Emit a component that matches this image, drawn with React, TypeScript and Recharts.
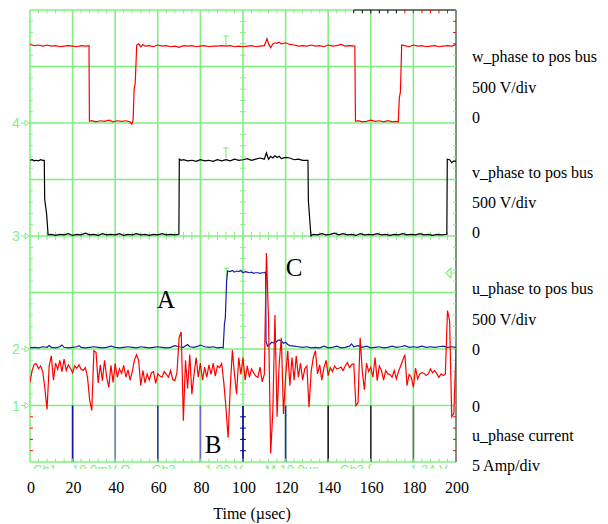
import React from 'react';
import { LineChart, Line, XAxis, YAxis, CartesianGrid, ReferenceLine } from 'recharts';

// ---------- axis / label data ----------
const timeTicks = [0, 20, 40, 60, 80, 100, 120, 140, 160, 180, 200];
const gridTimes = [0, 20, 40, 60, 80, 100, 120, 140, 160, 180, 200];
const gridLevels = [0, 1, 2, 3, 4, 5, 6, 7, 8];

// channel zero levels (in screen divisions)
const W_ZERO = 6;
const V_ZERO = 4;
const U_ZERO = 2;
const I_ZERO = 1;
const channelLevels = [I_ZERO, U_ZERO, V_ZERO, W_ZERO];
const channelNames = ['1', '2', '3', '4'];

// ---------- series (divisions above own zero) ----------
const wPhase: [number, number][] = [
  [0, 1.39], [2, 1.37], [4, 1.38], [6, 1.36], [8, 1.38], [10, 1.36], [12, 1.37], [14, 1.35], [16, 1.36], [18, 1.37],
  [20, 1.36], [22, 1.35], [24, 1.37], [26, 1.36], [27.7, 1.37], [27.9, 0.03], [29, 0.04], [31, 0.02], [33, 0.04],
  [35, 0.03], [37, 0.05], [39, 0.02], [41, 0.04], [43, 0.03], [45, 0.04], [47, 0.02], [47.8, -0.02], [48.4, 0.05],
  [48.9, 0.6], [49.4, 0.7], [50.1, 1.38], [51, 1.4], [52, 1.35], [53, 1.39], [54, 1.36], [56, 1.37], [58, 1.35],
  [60, 1.38], [62, 1.36], [64, 1.37], [66, 1.35], [68, 1.36], [70, 1.34], [72, 1.37], [74, 1.36], [76, 1.37],
  [78, 1.35], [80, 1.36], [82, 1.37], [84, 1.35], [86, 1.36], [88, 1.36], [90, 1.37], [92, 1.36], [94, 1.37],
  [96, 1.35], [98, 1.36], [100, 1.35], [102, 1.36], [104, 1.37], [106, 1.35], [108, 1.36], [110, 1.37], [111.3, 1.49],
  [112, 1.4], [113, 1.33], [114, 1.4], [115, 1.42], [116, 1.41], [117, 1.43], [118, 1.4], [120, 1.42], [122, 1.39],
  [124, 1.38], [126, 1.36], [128, 1.37], [130, 1.36], [132, 1.38], [134, 1.36], [136, 1.37], [138, 1.35], [140, 1.38],
  [142, 1.36], [144, 1.37], [146, 1.39], [148, 1.36], [150, 1.37], [152.5, 1.36], [152.8, 0.03], [154, 0.04],
  [156, 0.02], [158, 0.03], [160, 0.05], [162, 0.03], [164, 0.04], [166, 0.02], [168, 0.04], [170, 0.02], [172, 0.03],
  [172.9, 0.02], [173.4, 0.45], [173.9, 0.55], [174.5, 1.38], [176, 1.37], [178, 1.35], [180, 1.38], [182, 1.36],
  [184, 1.37], [186, 1.35], [188, 1.36], [190, 1.37], [192, 1.35], [194, 1.36], [196, 1.37], [198, 1.36], [199.5, 1.38],
  [200, 1.4],
];

const vPhase: [number, number][] = [
  [0, 1.34], [1, 1.35], [2, 1.33], [3, 1.34], [4, 1.33], [5, 1.35], [6, 1.34], [6.7, 1.34], [6.9, 0.65], [7.8, 0.39],
  [8.5, 0.02], [10, 0.03], [12, 0.01], [14, 0.03], [16, 0.02], [18, 0.04], [20, 0.01], [22, 0.03], [24, 0.02],
  [26, 0.05], [28, 0.02], [30, 0.03], [32, 0.01], [34, 0.04], [36, 0.02], [38, 0.03], [40, 0.02], [42, 0.04],
  [44, 0.01], [46, 0.03], [48, 0.02], [50, 0.04], [52, 0.02], [54, 0.03], [56, 0.01], [58, 0.03], [60, 0.02],
  [62, 0.04], [64, 0.02], [66, 0.03], [68, 0.02], [69.9, 0.03], [70.1, 1.36], [71, 1.34], [72, 1.35], [74, 1.33],
  [76, 1.34], [78, 1.32], [80, 1.35], [82, 1.33], [84, 1.34], [86, 1.32], [88, 1.35], [90, 1.33], [92, 1.35],
  [94, 1.33], [96, 1.36], [98, 1.34], [100, 1.35], [102, 1.37], [104, 1.34], [106, 1.36], [108, 1.38], [110, 1.36],
  [111, 1.47], [112, 1.36], [113, 1.41], [114, 1.38], [115, 1.42], [116, 1.39], [117, 1.41], [118, 1.37], [120, 1.39],
  [122, 1.38], [124, 1.35], [126, 1.36], [128, 1.34], [130.5, 1.34], [130.7, 0.62], [131.9, 0.0], [133, 0.03],
  [135, 0.02], [137, 0.04], [139, 0.02], [141, 0.03], [143, 0.05], [145, 0.02], [147, 0.04], [149, 0.02], [151, 0.03],
  [153, 0.01], [155, 0.04], [157, 0.02], [159, 0.03], [161, 0.02], [163, 0.04], [165, 0.02], [167, 0.03], [169, 0.01],
  [171, 0.03], [173, 0.02], [175, 0.04], [177, 0.02], [179, 0.03], [181, 0.02], [183, 0.04], [185, 0.02], [187, 0.03],
  [189, 0.01], [191, 0.03], [193, 0.02], [195.7, 0.03], [195.9, 1.36], [197, 1.35], [198, 1.3], [199, 1.33], [200, 1.32],
];

const uPhase: [number, number][] = [
  [0, 0.02], [2, 0.03], [4, 0.02], [6, 0.04], [8, 0.03], [9, 0.06], [10, 0.03], [12, 0.02], [14, 0.04], [15, 0.07],
  [16, 0.03], [18, 0.02], [20, 0.03], [22, 0.04], [23, 0.06], [24, 0.03], [26, 0.02], [28, 0.03], [30, 0.04],
  [32, 0.03], [34, 0.02], [36, 0.03], [38, 0.05], [40, 0.03], [42, 0.02], [44, 0.03], [46, 0.04], [48, 0.03],
  [50, 0.02], [52, 0.04], [54, 0.03], [56, 0.02], [58, 0.03], [60, 0.04], [62, 0.03], [64, 0.02], [66, 0.03],
  [68, 0.06], [70, 0.04], [72, 0.03], [74, 0.08], [75, 0.04], [77, 0.03], [79, 0.05], [80, 0.07], [82, 0.04],
  [84, 0.03], [86, 0.04], [88, 0.02], [90, 0.03], [90.7, 0.02], [91.3, 0.45], [91.7, 0.55], [92.3, 1.2], [92.8, 1.38],
  [94, 1.37], [95, 1.39], [96, 1.36], [97, 1.38], [98, 1.37], [99, 1.39], [100, 1.35], [101, 1.37], [102, 1.36],
  [103, 1.35], [104, 1.36], [105, 1.34], [106, 1.35], [107, 1.35], [108, 1.34], [109, 1.35], [110, 1.35], [110.6, 1.36],
  [110.8, 0.14], [111.5, 0.05], [112.5, 0.08], [113.5, 0.12], [115, 0.1], [116, 0.14], [117, 0.16], [118, 0.14],
  [119, 0.1], [120, 0.12], [121, 0.08], [122, 0.06], [124, 0.05], [126, 0.04], [128, 0.03], [130, 0.04], [132, 0.02],
  [134, 0.03], [136, 0.02], [138, 0.05], [140, 0.02], [142, 0.03], [144, 0.05], [146, 0.02], [148, 0.03], [150, 0.05],
  [151, 0.09], [152, 0.04], [154, 0.06], [156, 0.03], [158, 0.05], [160, 0.02], [162, 0.03], [164, 0.04], [166, 0.02],
  [168, 0.03], [170, 0.05], [172, 0.03], [174, 0.04], [176, 0.06], [178, 0.03], [180, 0.04], [182, 0.03], [184, 0.05],
  [186, 0.03], [188, 0.04], [190, 0.03], [192, 0.04], [194, 0.05], [196, 0.03], [198, 0.04], [200, 0.03],
];

// u_phase current, one sample per µs from 0 to 200
const uCurrent: number[] = [
  0.41, 0.62, 0.73, 0.74, 0.65, 0.7, 0.6, 0.3, -0.07, 0.7,
  0.88, 0.45, 0.75, 0.64, 0.8, 0.6, 0.82, 0.62, 0.72, 0.66,
  0.58, 0.7, 0.66, 0.72, 0.64, 0.62, 0.67, 0.5, 0.1, -0.09,
  0.97, 0.94, 0.4, 0.72, 0.44, 0.8, 0.5, 0.32, 0.71, 0.41,
  0.74, 0.5, 0.65, 0.57, 0.71, 0.5, 0.63, 0.45, 0.6, 0.8,
  0.9, 0.8, 0.35, 0.62, 0.4, 0.56, 0.45, 0.58, 0.6, 0.39,
  0.56, 0.52, 0.5, 0.6, 0.55, 0.5, 0.62, 0.46, 0.44, 0.58,
  1.2, 1.3, -0.27, 0.8, 0.3, 0.9, 0.2, 0.55, 0.85, 0.5,
  0.75, 0.45, 0.68, 0.5, 0.72, 0.55, 0.75, 0.52, 0.7, 0.67,
  0.74, 0.4, -0.04, -0.57, 0.3, 0.98, 0.55, 0.2, 0.85, 0.55,
  0.85, 0.45, 0.7, 0.5, 0.65, 0.58, 0.52, 0.5, 0.68, 0.42,
  0.55, 2.7, 1.5, -0.85, -0.1, 1.6, -0.2, 0.75, 1.2, -0.15,
  0.5, 0.97, 0.35, 0.85, 0.45, 0.88, 0.5, 0.75, 0.45, 0.65,
  0.7, -0.03, 0.6, 0.85, 0.97, 0.56, 0.72, 0.45, 0.67, 0.8,
  0.53, 0.67, 0.6, 0.7, 0.65, 0.66, 0.68, 0.62, 0.7, 0.76,
  0.67, 0.72, 0.74, 0.0, 0.05, 1.2, 0.6, 0.28, 0.75, 0.6,
  0.68, 0.5, 0.85, 0.44, 0.7, 0.62, 0.45, 0.62, 0.56, 0.55,
  0.5, 0.62, 0.47, 0.6, 0.7, 0.8, 0.9, 0.35, 0.55, 0.5,
  0.32, 0.66, 0.47, 0.56, 0.58, 0.57, 0.53, 0.56, 0.65, 0.58,
  0.62, 0.56, 0.5, 0.56, 0.53, 0.56, 1.68, 1.5, -0.2, -0.14,
  1.0,
];

// trigger "I" markers: time, level low, level high (divisions)
const triggerMarks: [number, number, number][] = [
  [92, 7.36, 7.54],
  [92, 5.38, 5.56],
  [92.2, 3.22, 3.43],
];

// coloured lower-section grid segments
const lowerSegTimes = [20, 40, 60, 80, 100, 120, 140, 160, 180];
const lowerSegColors = ['#1010b0', '#7c7cd0', '#3434ac', '#6c6cc8', '#000090', '#2a2aa4', '#202020', '#303030', '#6a6a6a'];

const rightLabelLines = [
  'w_phase to pos bus', '500 V/div', '0',
  'v_phase to pos bus', '500 V/div', '0',
  'u_phase to pos bus', '500 V/div', '0',
  '0', 'u_phase current', '5 Amp/div',
];
const rightLabelBaselines = [62, 93, 123, 178, 208, 238, 294, 325, 355, 412, 441, 471];

const statusTexts = ['Ch1', '10.0mV Ω', 'Ch3', '1.00 V', 'M 10.0µs', 'Ch3 ∫', '1.24 V'];
const statusX = [33, 72, 152, 205, 265, 340, 410];

// ---------- derived tables ----------
const wData = wPhase.map(([t, v]) => ({ t, y: v + W_ZERO }));
const vData = vPhase.map(([t, v]) => ({ t, y: v + V_ZERO }));
const uData = uPhase.map(([t, v]) => ({ t, y: v + U_ZERO }));
const iData = uCurrent.map((v, i) => ({ t: i, y: v + I_ZERO }));

const minorT: number[] = [];
for (let t = 4; t < 200; t += 4) minorT.push(t);
const minorV: number[] = [];
for (let k = 1; k < 40; k++) minorV.push(k / 5);

const GREEN = '#80f080';
const SERIF = '"Liberation Serif", "Times New Roman", serif';
const SANS = '"Liberation Sans", Arial, sans-serif';

const ChannelTick = (props: any) => {
  const { x, y, payload } = props;
  const idx = channelLevels.indexOf(payload.value);
  return (
    <g>
      <text x={x - 14} y={y + 5} textAnchor="middle" fontSize={14} fontFamily={SANS} fill={GREEN}>
        {channelNames[idx]}
      </text>
      <path d={`M${x - 9},${y} H${x - 5} M${x - 5},${y - 3} L${x - 1},${y} L${x - 5},${y + 3} Z`} stroke={GREEN} strokeWidth={1} fill="none" />
    </g>
  );
};

const TimeTick = (props: any) => {
  const { x, y, payload } = props;
  return (
    <text x={x + 1} y={y + 31} textAnchor="middle" fontSize={16} fontFamily={SERIF} fill="#000">
      {payload.value}
    </text>
  );
};

const seg = (key: string, x1: number, y1: number, x2: number, y2: number, color: string, w = 1) => (
  <ReferenceLine
    key={key}
    segment={[{ x: x1, y: y1 }, { x: x2, y: y2 }]}
    stroke={color}
    strokeWidth={w}
    ifOverflow="visible"
  />
);

export default function App() {
  const refs: React.ReactNode[] = [];
  lowerSegTimes.forEach((t, i) => refs.push(seg(`ls${t}`, t, 0, t, 1, lowerSegColors[i], 1.6)));
  refs.push(seg('topdark', 152, 8, 200, 8, '#555555', 1.6));
  refs.push(seg('rightb', 200, 0, 200, 8, '#7a7a7a', 1.6));
  minorT.forEach((t) => {
    const topColor = t < 152 ? GREEN : t < 176 ? '#000000' : '#ff0000';
    refs.push(seg(`tt${t}`, t, 8, t, 7.94, topColor));
    refs.push(seg(`bt${t}`, t, 0, t, 0.06, GREEN));
    refs.push(seg(`ct${t}`, t, 3.93, t, 4.07, GREEN));
  });
  minorV.forEach((v) => {
    const lowRed = v < 1 ? '#ff0000' : GREEN;
    const rightColor = v < 1 || v > 7.2 ? '#ff0000' : GREEN;
    refs.push(seg(`lt${v}`, 0, v, 1.4, v, lowRed));
    refs.push(seg(`rt${v}`, 198.6, v, 200, v, rightColor));
    refs.push(seg(`mt${v}`, 98.6, v, 101.4, v, v < 1 ? '#000090' : GREEN));
  });
  triggerMarks.forEach(([t, lo, hi], i) => {
    refs.push(seg(`tm${i}a`, t, lo, t, hi, GREEN, 1.2));
    refs.push(seg(`tm${i}b`, t - 1.2, hi, t + 1.2, hi, GREEN, 1.2));
  });

  return (
    <div style={{ position: 'relative', width: 600, height: 516 }}>
      <LineChart width={600} height={516} margin={{ top: 2, right: 152, bottom: 0, left: 0 }}>
        <CartesianGrid
          stroke={GREEN}
          strokeWidth={1.6}
          horizontalValues={gridLevels}
          verticalValues={gridTimes}
          strokeDasharray=""
        />
        <XAxis
          dataKey="t"
          type="number"
          domain={[0, 200]}
          ticks={timeTicks}
          allowDataOverflow
          height={62}
          axisLine={false}
          tickLine={false}
          tickSize={0}
          tickMargin={0}
          tick={<TimeTick />}
          interval={0}
        />
        <YAxis
          type="number"
          domain={[0, 8]}
          ticks={channelLevels}
          allowDataOverflow
          width={22}
          axisLine={false}
          tickLine={false}
          tickSize={0}
          tickMargin={0}
          tick={<ChannelTick />}
          interval={0}
        />
        {refs}
        <Line data={wData} dataKey="y" type="linear" stroke="#ff0000" strokeWidth={1.2} dot={false} activeDot={false} isAnimationActive={false} />
        <Line data={vData} dataKey="y" type="linear" stroke="#000000" strokeWidth={1.2} dot={false} activeDot={false} isAnimationActive={false} />
        <Line data={uData} dataKey="y" type="linear" stroke="#1a1aa8" strokeWidth={1.2} dot={false} activeDot={false} isAnimationActive={false} />
        <Line data={iData} dataKey="y" type="linear" stroke="#ff0000" strokeWidth={1.2} dot={false} activeDot={false} isAnimationActive={false} />
      </LineChart>
      <svg width={600} height={516} style={{ position: 'absolute', left: 0, top: 0, pointerEvents: 'none' }}>
        <defs>
          <clipPath id="statusClip">
            <rect x={22} y={455} width={426} height={6} />
          </clipPath>
        </defs>
        <g clipPath="url(#statusClip)">
          {statusTexts.map((s, i) => (
            <text key={s + i} x={statusX[i] - 8} y={466} fontSize={13} fontFamily={SANS} fill={GREEN}>
              {s}
            </text>
          ))}
        </g>
        {rightLabelLines.map((s, i) => (
          <text key={i} x={464} y={rightLabelBaselines[i] - 8} fontSize={16} fontFamily={SERIF} fill="#000">
            {s}
          </text>
        ))}
        <text x={158} y={300} textAnchor="middle" fontSize={25} fontFamily={SERIF} fill="#000">A</text>
        <text x={205} y={445} textAnchor="middle" fontSize={25} fontFamily={SERIF} fill="#000">B</text>
        <text x={286} y={268} textAnchor="middle" fontSize={25} fontFamily={SERIF} fill="#000">C</text>
        <text x={244} y={511} textAnchor="middle" fontSize={16} fontFamily={SERIF} fill="#000">Time (µsec)</text>
        <path d="M438,265 L443,260 L443,270 Z M443,265 H447" stroke={GREEN} strokeWidth={1.2} fill="none" />
      </svg>
    </div>
  );
}
